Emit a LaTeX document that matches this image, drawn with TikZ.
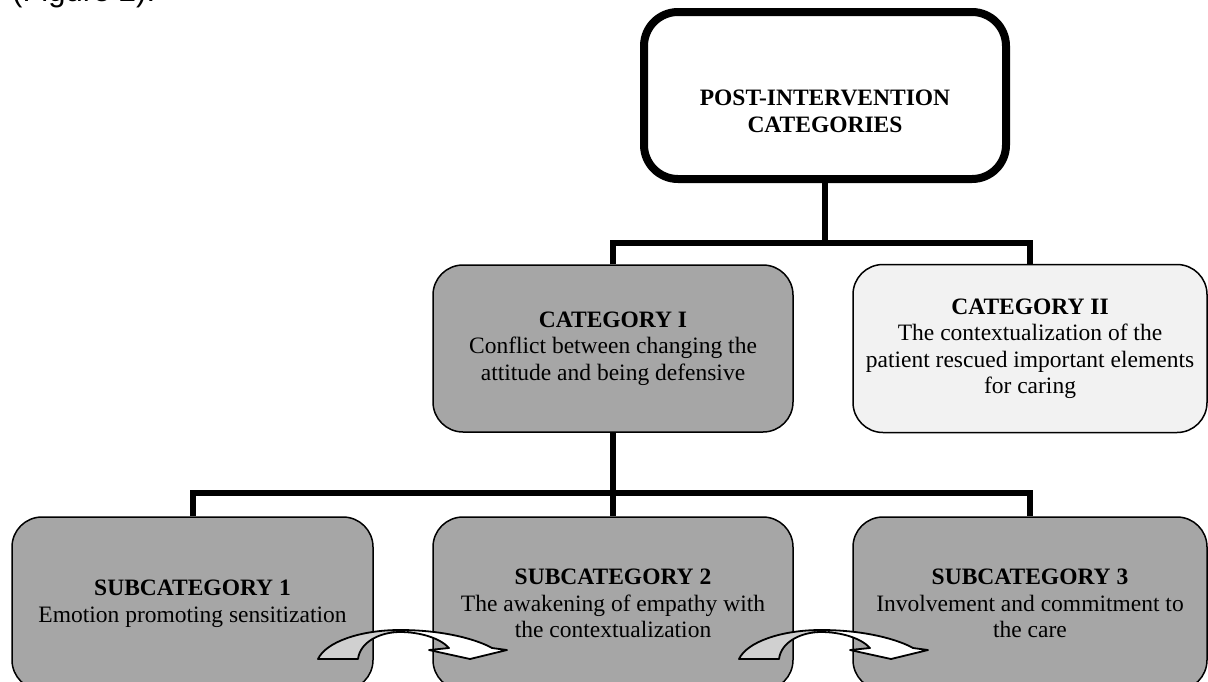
\documentclass[tikz,border=0pt]{standalone}
\usepackage{fontspec}
\setmainfont{Liberation Serif}
\newfontfamily\captionsans{Liberation Sans}
\usepackage{xcolor}
\definecolor{colorBox}{RGB}{166,166,166}
\definecolor{colorLight}{RGB}{242,242,242}
\definecolor{colorFold}{RGB}{208,208,208}
\usetikzlibrary{positioning}
\tikzset{boxtext/.style={font=\fontsize{23.5}{26.5}\selectfont, align=center}}

\begin{document}
\begin{tikzpicture}[x=1pt, y=-1pt, line join=round,
  link/.style={line width=6pt, line join=miter},
  catbox/.style={draw, line width=1.5pt, rounded corners=30pt, fill=colorBox, inner sep=0pt, boxtext},
  fold/.style={fill=colorFold, draw, line width=1.8pt},
  flap/.style={fill=white, draw, line width=1.8pt}]
\useasboundingbox (0,0) rectangle (1208,681);
\node[anchor=base west, inner sep=0pt, font=\captionsans\fontsize{31}{36}\selectfont] (figref) at (12,1.5) {(Figure 2).};
\node[draw, line width=8pt, rounded corners=34pt, minimum width=362pt, minimum height=167pt] (post) at (825,95.5) {};
\node[font=\bfseries\fontsize{23.5}{26.5}\selectfont, align=center] (posttext) at (825,111.5) {POST-INTERVENTION\\CATEGORIES};
\node[catbox, minimum width=360pt, minimum height=167pt] (cat1) at (613,348.5) {\textbf{CATEGORY I}\\Conflict between changing the\\attitude and being defensive};
\node[catbox, fill=colorLight, minimum width=354pt, minimum height=168pt, right=58.5pt of cat1] (cat2) {\textbf{CATEGORY II}\\The contextualization of the\\patient rescued important elements\\for caring};
\node[catbox, minimum width=360pt, minimum height=173pt, below=83.5pt of cat1] (sub2) {\textbf{SUBCATEGORY 2}\\The awakening of empathy with\\the contextualization};
\node[catbox, minimum width=361pt, minimum height=173pt, left=58.5pt of sub2] (sub1) {\textbf{SUBCATEGORY 1}\\Emotion promoting sensitization};
\node[catbox, minimum width=354pt, minimum height=173pt, right=58.5pt of sub2] (sub3) {\textbf{SUBCATEGORY 3}\\Involvement and commitment to\\the care};
% tree connectors
\coordinate (j1) at (825,243);
\coordinate (j2) at (613,493);
\draw[link] (post.south) -- (j1);
\draw[link] (cat1.north) -- (cat1.north |- j1) -- (cat2.north |- j1) -- (cat2.north);
\draw[link] (cat1.south) -- (sub2.north);
\draw[link] (sub1.north) -- (sub1.north |- j2) -- (sub3.north |- j2) -- (sub3.north);
% curved arrows between subcategories
\foreach \dx in {0,421}{
  \begin{scope}[xshift=\dx]
    \filldraw[fold] (318,659) .. controls (326,642) and (360,630) .. (400,630) -- (400,632) .. controls (380,632) and (360,642) .. (358,659) -- cycle;
    \filldraw[flap] (400,630) .. controls (445,630) and (478,640) .. (492,648) -- (507,650) -- (470,659) -- (429,650) -- (449,648) .. controls (440,638) and (420,632) .. (400,632) -- cycle;
  \end{scope}
}
\end{tikzpicture}
\end{document}
